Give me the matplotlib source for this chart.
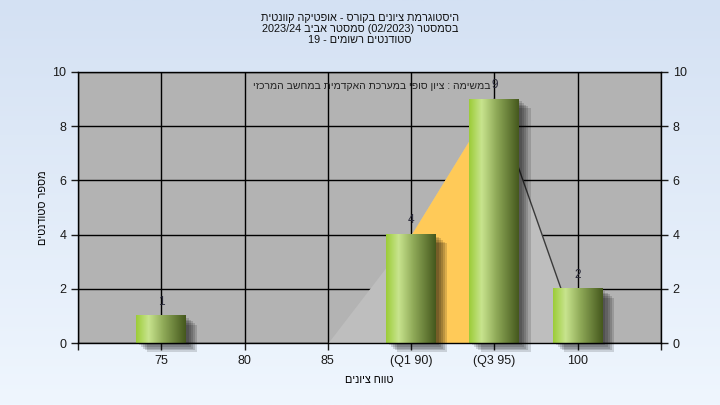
import re
import numpy as np
import matplotlib
matplotlib.use("Agg")
import matplotlib.pyplot as plt
import matplotlib.patheffects as pe
from matplotlib.colors import LinearSegmentedColormap

plt.rcParams['font.family'] = ['Liberation Sans', 'DejaVu Sans']

# data
grades = [75, 80, 85, 90, 95, 100]
grade_labels = ['75', '80', '85', '(Q1 90)', '(Q3 95)', '100']
counts = [1, 0, 0, 4, 9, 2]

# distribution outline behind the bars (grade, students)
curve_grades = [85, 90, 95, 99]
curve_values = [0, 4, 9, 2]
q1, q3 = 90, 95

title_lines = ["היסטוגרמת ציונים בקורס - אופטיקה קוונטית",
               "בסמסטר (02/2023) סמסטר אביב 2023/24",
               "סטודנטים רשומים - 19"]
note = "במשימה : ציון סופי במערכת האקדמית במחשב המרכזי"
xlabel = "טווח ציונים"
ylabel = "מספר סטודנטים"


def rtl(s):
    # matplotlib draws left to right, so flip hebrew runs into visual order
    parts = re.findall(r'[0-9A-Za-z/.]+|[^0-9A-Za-z/.]+', s)
    out = []
    for p in reversed(parts):
        if re.match(r'[0-9A-Za-z/.]', p):
            out.append(p)
        else:
            out.append(p[::-1].translate(str.maketrans('()', ')(')))
    return ''.join(out)


def to_idx(g):
    return (g - grades[0]) / (grades[1] - grades[0])


fig = plt.figure(figsize=(7.2, 4.05), dpi=100)

# light blue gradient background
bg = fig.add_axes([0, 0, 1, 1], zorder=-10)
bg_cmap = LinearSegmentedColormap.from_list('bg', ['#d4e1f3', '#eff6fe'])
bg.imshow(np.linspace(0, 1, 256).reshape(-1, 1), cmap=bg_cmap, aspect='auto',
          extent=[0, 1, 0, 1])
bg.axis('off')

ax = fig.add_axes([78 / 720, 1 - 343 / 405, (661 - 78) / 720, (343 - 72) / 405])
ax.set_facecolor('#b3b3b3')

x = np.arange(len(grades))

# area under outline, quartile band in orange
cx = np.array([to_idx(g) for g in curve_grades])
cy = np.array(curve_values)
ax.fill_between(cx, 0, cy, color='#bebebe', zorder=1, lw=0)
band = (cx >= to_idx(q1)) & (cx <= to_idx(q3))
ax.fill_between(cx[band], 0, cy[band], color='#ffca58', zorder=1.1, lw=0)
ax.plot(cx[-2:], cy[-2:], color='#3a3a3a', lw=1, zorder=1.2)

# bars with soft shadow and shaded gradient
bar_cmap = LinearSegmentedColormap.from_list(
    'bar', [(0, '#9ccc38'), (0.25, '#c8e48e'), (0.55, '#8faa58'), (1, '#45581d')])
grad = np.linspace(0, 1, 128).reshape(1, -1)
shadow = [pe.SimplePatchShadow(offset=(o, -o * 0.8), shadow_rgbFace='k', alpha=0.14)
          for o in (2, 3.5, 5, 6.5, 8)]
bars = ax.bar(x, counts, width=0.6, color='#6f8a30', zorder=2,
              path_effects=shadow + [pe.Normal()])
for b, c in zip(bars, counts):
    if c == 0:
        b.set_visible(False)
        continue
    b.set_clip_on(False)
    ax.imshow(grad, cmap=bar_cmap, aspect='auto', zorder=3,
              extent=[b.get_x(), b.get_x() + b.get_width(), 0, c])
    ax.text(b.get_x() + b.get_width() / 2, c + 0.3, str(c), ha='center', va='bottom',
            fontsize=8.5, color='#2a2a3a', zorder=4)

ax.set_xlim(-1, 6)
ax.set_ylim(0, 10)
ax.set_xticks(np.arange(-1, 7))
ax.set_xticklabels([''] + grade_labels + [''])
ax.set_yticks(range(0, 11, 2))
ax.grid(True, color='black', lw=1, zorder=0.5)
ax.set_axisbelow(True)
ax.tick_params(axis='both', length=5, width=1, labelsize=9, colors='#1a1a1a', direction='out')
ax.tick_params(axis='y', right=True, labelright=True)
for s in ax.spines.values():
    s.set_color('black')
    s.set_linewidth(1)
    s.set_zorder(5)

ax.text(0.708, 0.948, rtl(note), transform=ax.transAxes, ha='right', va='center',
        fontsize=7.5, color='#222222', zorder=4)

ax.set_xlabel(rtl(xlabel), fontsize=7.8, labelpad=6)
ax.set_ylabel(rtl(ylabel), fontsize=7.8, labelpad=3)

fig.text(0.5, 1 - 29 / 405, '\n'.join(rtl(t) for t in title_lines), ha='center', va='center',
         fontsize=7.8, linespacing=1.12, color='#111111')

fig.savefig('out.png', dpi=100)
